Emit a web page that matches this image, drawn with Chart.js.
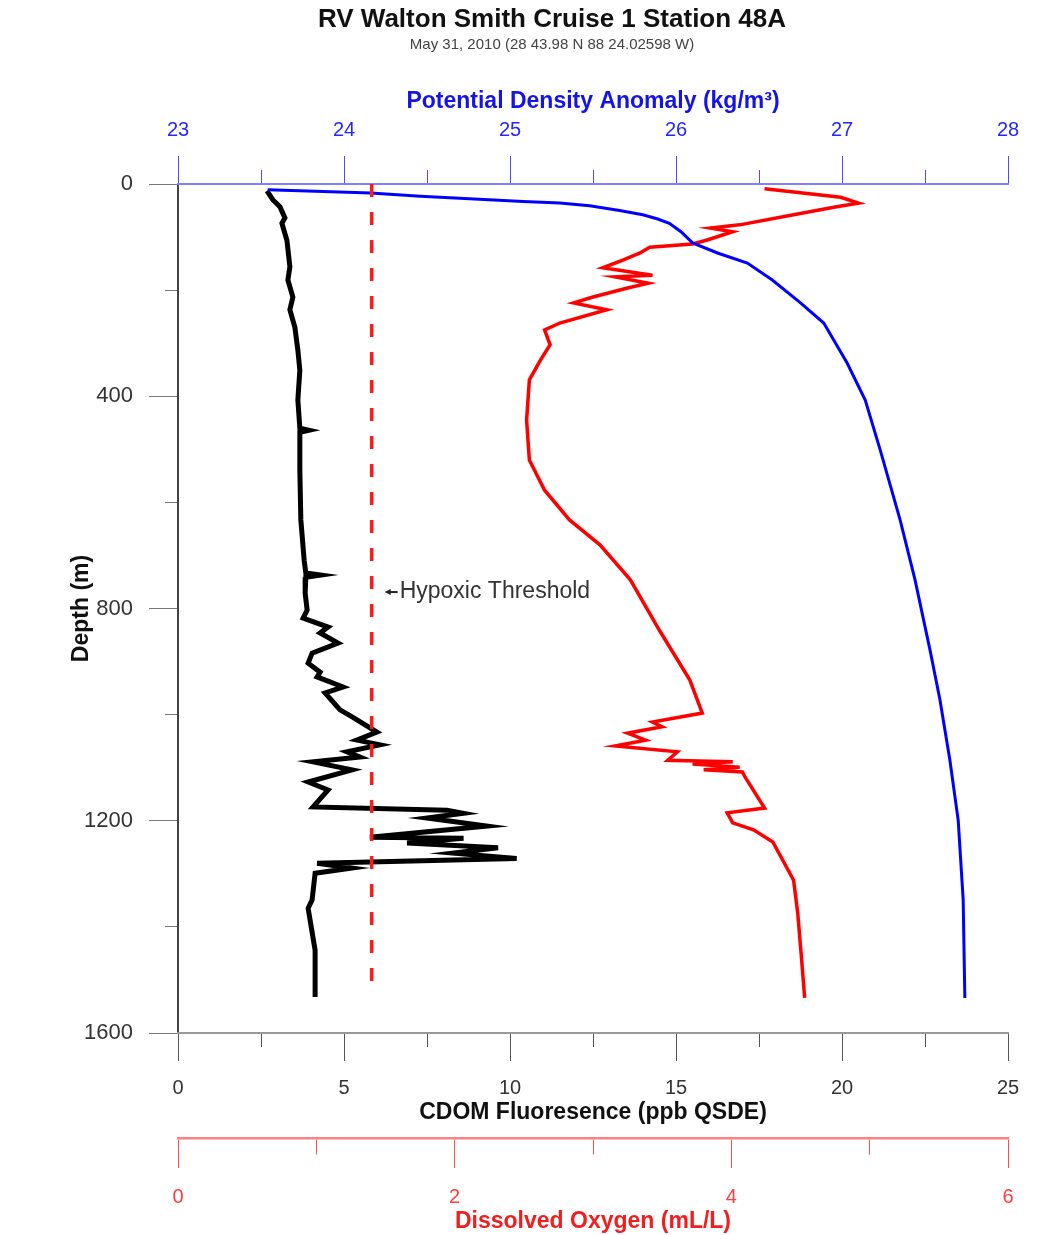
<!DOCTYPE html>
<html>
<head>
<meta charset="utf-8">
<title>RV Walton Smith Cruise 1 Station 48A</title>
<script src="https://cdn.jsdelivr.net/npm/chart.js@4.4.0/dist/chart.umd.min.js"></script>
<style>
  html, body { margin: 0; padding: 0; background: #fff; }
</style>
</head>
<body>
<canvas id="profileChart" width="1049" height="1235"></canvas>
<script>
// CDOM fluorescence (ppb QSDE) against depth (m)
var cdomDepth = [13, 30, 43, 64, 74, 106, 156, 181, 213, 237, 270, 313, 351, 407, 460, 464, 468, 540, 633, 709,
  733, 737, 741, 771, 803, 818, 835, 846, 865, 884, 903, 920, 929, 948, 959, 991, 1005, 1033, 1048, 1057,
  1070, 1080, 1089, 1104, 1127, 1142, 1174, 1180, 1186, 1195, 1210, 1231, 1233, 1242, 1251, 1261, 1271, 1280,
  1289, 1299, 1349, 1365, 1444, 1532];
var cdomValue = [2.68, 2.86, 3.07, 3.22, 3.13, 3.28, 3.37, 3.31, 3.46, 3.37, 3.52, 3.61, 3.67, 3.61, 3.67, 3.95, 3.67, 3.67, 3.70, 3.80,
  3.85, 4.3, 3.85, 3.83, 3.89, 3.77, 4.52, 4.28, 4.82, 4.04, 3.92, 4.28, 4.19, 4.97, 4.43, 4.88, 5.27, 5.99, 5.39, 6.08,
  5.09, 5.48, 4.07, 5.24, 3.92, 4.52, 4.07, 8.1, 8.6, 7.5, 9.3, 5.78, 8.6, 6.9, 9.64, 8.3, 10.2, 4.19,
  5.24, 4.13, 4.04, 3.92, 4.13, 4.13];

// dissolved oxygen (mL/L) against depth (m)
var oxyDepth = [9, 25, 36, 43, 58, 77, 83, 90, 106, 113, 119, 130, 143, 158, 172, 175, 187, 196, 213, 224,
  237, 262, 275, 303, 332, 369, 445, 520, 577, 633, 680, 746, 841, 935, 997, 1014, 1023, 1035, 1048, 1059,
  1070, 1086, 1089, 1093, 1099, 1104, 1108, 1118, 1176, 1185, 1204, 1217, 1240, 1312, 1374, 1468, 1534];
var oxyValue = [4.24, 4.79, 4.92, 4.76, 4.45, 4.06, 3.85, 4.01, 3.82, 3.72, 3.41, 3.34, 3.22, 3.07, 3.43, 3.16, 3.40, 3.25, 3.00, 2.86,
  3.10, 2.76, 2.65, 2.69, 2.62, 2.54, 2.52, 2.54, 2.65, 2.83, 3.05, 3.27, 3.48, 3.70, 3.79, 3.43, 3.50, 3.25, 3.38, 3.16,
  3.61, 3.54, 4.01, 3.72, 4.06, 3.80, 4.08, 4.10, 4.24, 3.97, 4.01, 4.16, 4.30, 4.45, 4.48, 4.51, 4.53];

// potential density anomaly (kg/m3) against depth (m)
var sigmaDepth = [11, 17, 23, 33, 36, 41, 50, 58, 66, 74, 90, 111, 130, 149, 181, 224, 262, 337, 407, 501, 633, 746, 878,
  972, 1086, 1199, 1349, 1534];
var sigmaValue = [23.54, 24.16, 24.46, 25.08, 25.30, 25.48, 25.66, 25.80, 25.89, 25.96, 26.03, 26.10, 26.25, 26.43, 26.58, 26.75, 26.89, 27.03, 27.14, 27.23, 27.35, 27.44, 27.53,
  27.59, 27.65, 27.70, 27.73, 27.74];

// hypoxic threshold
var hypoxicDO = 1.4;
var hypoxicDepth = [0, 1520];
var noteDepth = 769;

// labelled ticks
var depthLabels = [0, 400, 800, 1200, 1600];
var sigmaLabels = [23, 24, 25, 26, 27, 28];
var cdomLabels = [0, 5, 10, 15, 20, 25];
var oxyLabels = [0, 2, 4, 6];

var titleText = 'RV Walton Smith Cruise 1 Station 48A';
var subtitleText = 'May 31, 2010 (28 43.98 N 88 24.02598 W)';

function toPoints(values, depths) {
  return depths.map(function (d, i) { return { x: values[i], y: d }; });
}

function labelOnly(list) {
  return function (v) { return list.indexOf(v) >= 0 ? v : ''; };
}

// shorter minor ticks, done with a dash pattern on the tick mark
function minorDash(list, tl, len, fromFar) {
  return function (c) {
    if (!c.tick || list.indexOf(c.tick.value) >= 0) return [];
    return fromFar ? [0, tl - len, len, 300] : [len, 300];
  };
}

var FONT = "'Liberation Sans', Arial, sans-serif";
Chart.defaults.font.family = FONT;

// title block sits a little left of the plot centre, as in the original
var headline = {
  id: 'headline',
  afterDraw: function (chart) {
    var ctx = chart.ctx;
    ctx.save();
    ctx.textAlign = 'center';
    ctx.textBaseline = 'middle';
    ctx.fillStyle = '#111';
    ctx.font = 'bold 26px ' + FONT;
    ctx.fillText(titleText, 552, 20);
    ctx.fillStyle = '#444';
    ctx.font = '15px ' + FONT;
    ctx.fillText(subtitleText, 552, 45);
    ctx.restore();
  }
};

var hypoxicNote = {
  id: 'hypoxicNote',
  afterDatasetsDraw: function (chart) {
    var ctx = chart.ctx;
    var x = chart.scales.xDO.getPixelForValue(hypoxicDO);
    var y = chart.scales.y.getPixelForValue(noteDepth);
    ctx.save();
    ctx.fillStyle = '#222';
    ctx.strokeStyle = '#222';
    ctx.lineWidth = 2;
    ctx.beginPath();
    ctx.moveTo(x + 18, y);
    ctx.lineTo(x + 26, y);
    ctx.stroke();
    ctx.beginPath();
    ctx.moveTo(x + 13, y);
    ctx.lineTo(x + 19, y - 3);
    ctx.lineTo(x + 19, y + 3);
    ctx.closePath();
    ctx.fill();
    ctx.font = '23px ' + FONT;
    ctx.textBaseline = 'middle';
    ctx.fillStyle = '#333';
    ctx.fillText('Hypoxic Threshold', x + 28, y);
    ctx.restore();
  }
};

var ctx = document.getElementById('profileChart').getContext('2d');
var chart = new Chart(ctx, {
  type: 'scatter',
  data: {
    datasets: [{
      label: 'Hypoxic Threshold',
      data: toPoints([hypoxicDO, hypoxicDO], hypoxicDepth),
      xAxisID: 'xDO',
      yAxisID: 'y',
      borderColor: '#ff1a1a',
      borderWidth: 3.5,
      borderDash: [13, 15],
      showLine: true,
      pointRadius: 0,
      order: 0
    }, {
      label: 'Potential Density Anomaly',
      data: toPoints(sigmaValue, sigmaDepth),
      xAxisID: 'xSig',
      yAxisID: 'y',
      borderColor: '#0000ff',
      borderWidth: 3,
      showLine: true,
      pointRadius: 0,
      order: 1
    }, {
      label: 'Dissolved Oxygen',
      data: toPoints(oxyValue, oxyDepth),
      xAxisID: 'xDO',
      yAxisID: 'y',
      borderColor: '#ff0000',
      borderWidth: 3.5,
      showLine: true,
      pointRadius: 0,
      order: 2
    }, {
      label: 'CDOM Fluoresence',
      data: toPoints(cdomValue, cdomDepth),
      xAxisID: 'x',
      yAxisID: 'y',
      borderColor: '#000000',
      borderWidth: 5,
      showLine: true,
      pointRadius: 0,
      order: 3
    }]
  },
  options: {
    responsive: false,
    devicePixelRatio: 1,
    animation: false,
    layout: { padding: { top: 53.4, left: 0, right: 41, bottom: 0 } },
    plugins: {
      legend: { display: false },
      tooltip: { enabled: false },
      title: { display: false }
    },
    scales: {
      y: {
        type: 'linear',
        position: 'left',
        reverse: true,
        min: 0,
        max: 1600,
        afterFit: function (s) { s.width = 178; },
        border: { display: true, color: '#444', width: 2 },
        grid: {
          drawOnChartArea: false,
          tickLength: 29,
          color: '#777',
          tickColor: '#777',
          tickBorderDash: minorDash(depthLabels, 29, 13, true)
        },
        ticks: {
          stepSize: 200,
          autoSkip: false,
          padding: 16,
          color: '#333',
          font: { size: 22 },
          callback: labelOnly(depthLabels)
        },
        title: {
          display: true,
          text: 'Depth (m)',
          color: '#111',
          font: { size: 23, weight: 'bold' },
          padding: { top: 68.2, bottom: 0 }
        }
      },
      xSig: {
        type: 'linear',
        position: 'top',
        min: 23,
        max: 28,
        afterFit: function (s) { s.height = 130.6; },
        border: { display: true, color: '#7f7fff', width: 2 },
        grid: {
          drawOnChartArea: false,
          tickLength: 28,
          color: '#4d4dff',
          tickColor: '#4d4dff',
          tickBorderDash: minorDash(sigmaLabels, 28, 14, true)
        },
        ticks: {
          stepSize: 0.5,
          autoSkip: false,
          maxRotation: 0,
          padding: 14,
          color: '#2626ff',
          font: { size: 20 },
          callback: labelOnly(sigmaLabels)
        },
        title: {
          display: true,
          text: 'Potential Density Anomaly (kg/m\u00b3)',
          color: '#1414e6',
          font: { size: 23, weight: 'bold' },
          padding: { top: 34.8, bottom: 0 }
        }
      },
      x: {
        type: 'linear',
        position: 'bottom',
        weight: 0,
        min: 0,
        max: 25,
        afterFit: function (s) { s.height = 105; },
        border: { display: true, color: '#999', width: 2 },
        grid: {
          drawOnChartArea: false,
          tickLength: 28,
          color: '#555',
          tickColor: '#555',
          tickBorderDash: minorDash(cdomLabels, 28, 13, false)
        },
        ticks: {
          stepSize: 2.5,
          autoSkip: false,
          maxRotation: 0,
          padding: 15,
          color: '#333',
          font: { size: 20 },
          callback: labelOnly(cdomLabels)
        },
        title: {
          display: true,
          text: 'CDOM Fluoresence (ppb QSDE)',
          color: '#111',
          font: { size: 23, weight: 'bold' },
          padding: { top: 0, bottom: 11.2 }
        }
      },
      xDO: {
        type: 'linear',
        position: 'bottom',
        weight: 1,
        min: 0,
        max: 6,
        afterFit: function (s) { s.height = 97; },
        border: { display: true, color: '#ff8080', width: 2.5 },
        grid: {
          drawOnChartArea: false,
          tickLength: 30,
          color: '#ff4d4d',
          tickColor: '#ff4d4d',
          tickBorderDash: minorDash(oxyLabels, 30, 15, false)
        },
        ticks: {
          stepSize: 1,
          autoSkip: false,
          maxRotation: 0,
          padding: 17,
          color: '#ff3b3b',
          font: { size: 20 },
          callback: labelOnly(oxyLabels)
        },
        title: {
          display: true,
          text: 'Dissolved Oxygen (mL/L)',
          color: '#f01e1e',
          font: { size: 23, weight: 'bold' },
          padding: { top: 0, bottom: 0 }
        }
      }
    }
  },
  plugins: [headline, hypoxicNote]
});
</script>
</body>
</html>
